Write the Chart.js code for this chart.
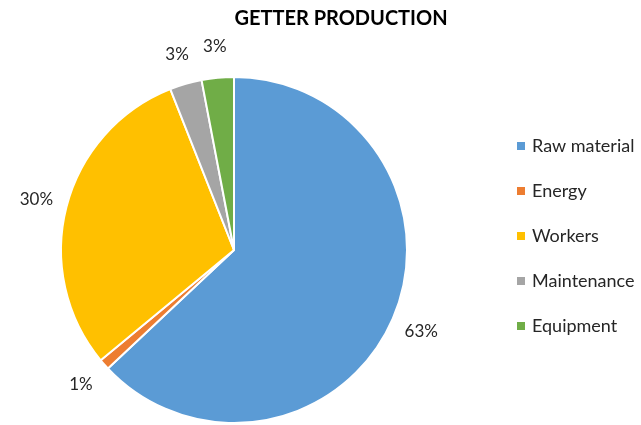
<!DOCTYPE html>
<html>
<head>
<meta charset="utf-8">
<script src="https://cdn.jsdelivr.net/npm/chart.js@4/dist/chart.umd.min.js"></script>
<style>
  html, body { margin: 0; padding: 0; background: #ffffff; }
  #wrap { width: 641px; height: 425px; position: relative; }
</style>
</head>
<body>
<div id="wrap"><canvas id="c" width="641" height="425"></canvas></div>
<script>
const titleText = 'GETTER PRODUCTION';
const categories = ['Raw material', 'Energy', 'Workers', 'Maintenance', 'Equipment'];
const shares = [63, 1, 30, 3, 3];
const sliceColors = ['#5B9BD5', '#ED7D31', '#FFC000', '#A5A5A5', '#70AD47'];

const FONT = 'Lato, "Open Sans", sans-serif';

// Percentage labels placed just outside each slice
const outsideLabels = {
  id: 'outsideLabels',
  afterDatasetsDraw(chart) {
    const ctx = chart.ctx;
    const meta = chart.getDatasetMeta(0);
    const total = shares.reduce((a, b) => a + b, 0);
    ctx.save();
    ctx.font = '17px ' + FONT;
    ctx.fillStyle = '#262626';
    ctx.textAlign = 'center';
    ctx.textBaseline = 'middle';
    meta.data.forEach((arc, i) => {
      const mid = (arc.startAngle + arc.endAngle) / 2;
      const r = arc.outerRadius + 31;
      const x = arc.x + Math.cos(mid) * r;
      const y = arc.y + Math.sin(mid) * r;
      ctx.fillText(Math.round(shares[i] / total * 100) + '%', x, y);
    });
    ctx.restore();
  }
};

// Title and right-hand legend
const headerAndKey = {
  id: 'headerAndKey',
  afterDraw(chart) {
    const ctx = chart.ctx;
    ctx.save();
    ctx.fillStyle = '#000000';
    ctx.font = 'bold 20px ' + FONT;
    ctx.textAlign = 'center';
    ctx.textBaseline = 'middle';
    ctx.fillText(titleText, 341, 19);

    ctx.font = '18px ' + FONT;
    ctx.textAlign = 'left';
    categories.forEach((name, i) => {
      const y = 146 + i * 45;
      ctx.fillStyle = sliceColors[i];
      ctx.fillRect(517, y - 4, 8, 8);
      ctx.fillStyle = '#262626';
      ctx.fillText(name, 532, y);
    });
    ctx.restore();
  }
};

new Chart(document.getElementById('c'), {
  type: 'pie',
  data: {
    labels: categories,
    datasets: [{
      data: shares,
      backgroundColor: sliceColors,
      borderColor: '#ffffff',
      borderWidth: 2
    }]
  },
  options: {
    responsive: false,
    animation: false,
    layout: { padding: { left: 60, right: 233, top: 76, bottom: 1 } },
    plugins: {
      legend: { display: false },
      title: { display: false },
      tooltip: { enabled: false }
    }
  },
  plugins: [outsideLabels, headerAndKey]
});
</script>
</body>
</html>
